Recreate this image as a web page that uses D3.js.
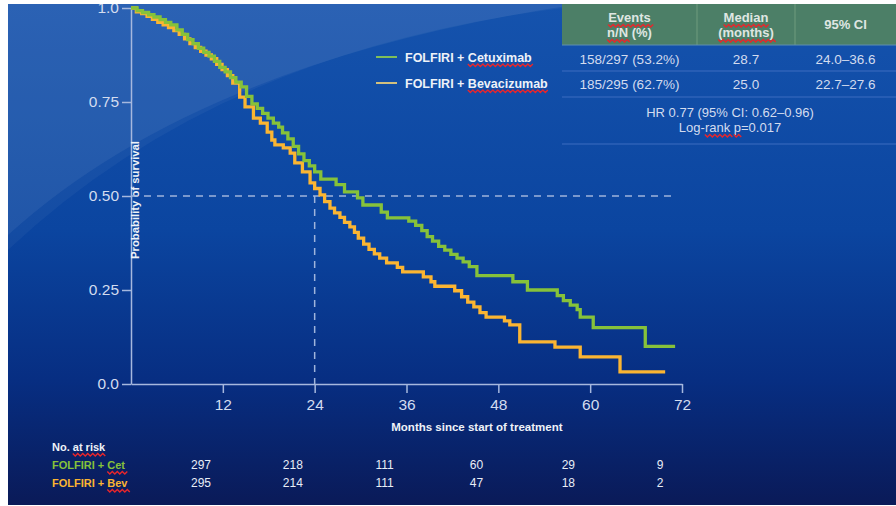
<!DOCTYPE html>
<html>
<head>
<meta charset="utf-8">
<script src="https://cdn.jsdelivr.net/npm/d3@7"></script>
<style>
  html, body { margin: 0; padding: 0; background: #fff; }
  svg { display: block; font-family: 'Liberation Sans', Arial, sans-serif; }
</style>
</head>
<body>
<div class="chart-container"></div>
<script>
// Kaplan-Meier steps (months, survival)
let cetMonths = [0, 0.8, 1.5, 2.3, 3.0, 3.8, 4.5, 5.2, 6.0, 6.7, 7.4, 8.1, 8.8, 9.5, 10.2, 10.9, 11.6, 12.3, 13.0, 13.7,
  14.4, 15.1, 15.8, 16.5, 17.2, 17.9, 18.6, 19.3, 19.8, 20.5, 21.2, 21.9, 22.6, 23.3, 24.0, 24.8, 26.8, 27.9, 29.6, 30.3,
  32.7, 33.5, 36.3, 37.2, 38.0, 38.7, 39.4, 40.2, 41.0, 41.8, 42.6, 43.4, 44.2, 45.2, 49.9, 51.8, 55.7, 56.5, 57.4, 58.3,
  58.7, 60.4, 67.2, 71.1]
let cetSurv = [1.0, 0.993, 0.988, 0.982, 0.976, 0.969, 0.962, 0.955, 0.942, 0.93, 0.916, 0.905, 0.893, 0.882, 0.872, 0.858, 0.842, 0.83, 0.815, 0.803,
  0.79, 0.765, 0.745, 0.733, 0.72, 0.707, 0.694, 0.683, 0.668, 0.652, 0.632, 0.612, 0.594, 0.58, 0.564, 0.545, 0.53, 0.511, 0.495, 0.476,
  0.457, 0.442, 0.433, 0.422, 0.408, 0.392, 0.38, 0.366, 0.356, 0.345, 0.335, 0.325, 0.312, 0.288, 0.272, 0.25, 0.235, 0.222, 0.21, 0.198,
  0.178, 0.15, 0.1, 0.1]

let bevMonths = [0, 0.7, 1.4, 2.1, 2.8, 3.5, 4.2, 4.9, 5.6, 6.3, 7.0, 7.7, 8.4, 9.1, 9.8, 10.5, 11.2, 11.9, 12.6, 13.3,
  14.2, 14.9, 16.0, 16.9, 17.8, 18.4, 18.8, 19.9, 20.8, 21.4, 22.4, 23.4, 24.0, 24.7, 25.3, 26.0, 26.6, 27.3, 27.9, 28.6,
  29.2, 29.7, 30.4, 31.1, 31.8, 32.5, 33.4, 34.8, 35.5, 38.2, 39.2, 39.7, 42.3, 43.2, 44.0, 44.8, 45.6, 46.4, 48.8, 49.5,
  50.8, 55.4, 58.7, 63.9, 69.8]
let bevSurv = [1.0, 0.99, 0.985, 0.978, 0.97, 0.962, 0.955, 0.948, 0.94, 0.93, 0.918, 0.905, 0.895, 0.885, 0.875, 0.865, 0.85, 0.836, 0.82, 0.8,
  0.763, 0.737, 0.707, 0.694, 0.67, 0.649, 0.636, 0.628, 0.614, 0.588, 0.564, 0.535, 0.52, 0.503, 0.485, 0.468, 0.455, 0.443, 0.43, 0.418,
  0.403, 0.388, 0.372, 0.358, 0.346, 0.335, 0.322, 0.31, 0.298, 0.285, 0.272, 0.26, 0.248, 0.232, 0.218, 0.205, 0.19, 0.178, 0.168, 0.157,
  0.112, 0.098, 0.072, 0.032, 0.032]

let xTicks = [12, 24, 36, 48, 60, 72]
let yTicks = [0, 0.25, 0.5, 0.75, 1]
let yTickLabels = ['0.0', '0.25', '0.50', '0.75', '1.0']

let riskMonths = [0, 12, 24, 36, 48, 60]
let riskCet = [297, 218, 111, 60, 29, 9]
let riskBev = [295, 214, 111, 47, 18, 2]

let tableHeader = [['Events', 'n/N (%)'], ['Median', '(months)'], ['95% CI']]
let tableRows = [
  ['158/297 (53.2%)', '28.7', '24.0\u201336.6'],
  ['185/295 (62.7%)', '25.0', '22.7\u201327.6']
]
let seriesNames = ['FOLFIRI + Cetuximab', 'FOLFIRI + Bevacizumab']
let hrText = ['HR 0.77 (95% CI: 0.62\u20130.96)', 'Log-rank p=0.017']

// median reference line (survival 0.5 out to ~70.7 months, drop at 24)
let medianRef = { surv: 0.5, xEnd: 70.7, month: 24 }

let width = 896,
    height = 506

let green = '#86c23a',
    orange = '#fbb532',
    textColor = '#d3dcef',
    axisColor = '#a6b8de'

let x = d3.scaleLinear().domain([0, 72]).range([131, 682])
let y = d3.scaleLinear().domain([0, 1]).range([384, 8])

let svg = d3.select('.chart-container')
  .append('svg')
  .attr('width', width)
  .attr('height', height)

let defs = svg.append('defs')
let bg = defs.append('linearGradient')
  .attr('id', 'bg')
  .attr('x1', 0).attr('y1', 0).attr('x2', 0).attr('y2', 1)
bg.append('stop').attr('offset', '0%').attr('stop-color', '#1553ad')
bg.append('stop').attr('offset', '45%').attr('stop-color', '#0b45a0')
bg.append('stop').attr('offset', '75%').attr('stop-color', '#072e82')
bg.append('stop').attr('offset', '100%').attr('stop-color', '#0a1a58')

svg.append('rect')
  .attr('x', 8).attr('y', 4)
  .attr('width', width - 8).attr('height', height - 5)
  .attr('fill', 'url(#bg)')

// glossy highlight in the upper left
svg.append('path')
  .attr('d', 'M8,4 L600,4 Q 230,40 8,250 Z')
  .attr('fill', '#fff')
  .attr('opacity', 0.04)
svg.append('path')
  .attr('d', 'M8,4 L580,4 Q 200,60 8,235 Z')
  .attr('fill', '#fff')
  .attr('opacity', 0.06)

// results table
let colEdges = [562, 697, 795, 896]
let table = svg.append('g')
table.append('rect')
  .attr('x', colEdges[0]).attr('y', 4)
  .attr('width', colEdges[3] - colEdges[0]).attr('height', 41)
  .attr('fill', '#4c7f67')
table.selectAll('.sep')
  .data([colEdges[1], colEdges[2]])
  .enter()
  .append('line')
  .attr('x1', d => d).attr('x2', d => d)
  .attr('y1', 4).attr('y2', 45)
  .attr('stroke', '#6f9c7f')
  .attr('stroke-width', 1)
table.selectAll('.rowline')
  .data([45, 71, 97, 144])
  .enter()
  .append('line')
  .attr('x1', colEdges[0]).attr('x2', width)
  .attr('y1', d => d).attr('y2', d => d)
  .attr('stroke', d => d === 45 ? '#5f8fb0' : '#3d6cc0')
  .attr('stroke-width', 1)

let headTexts = []
tableHeader.forEach((lines, i) => {
  let cx = (colEdges[i] + colEdges[i + 1]) / 2
  lines.forEach((t, j) => {
    let ty = lines.length === 1 ? 29 : 22 + j * 15
    let el = table.append('text')
      .attr('x', cx).attr('y', ty)
      .attr('text-anchor', 'middle')
      .attr('font-size', 13)
      .attr('font-weight', 'bold')
      .attr('fill', '#dfe6e2')
      .text(t)
    headTexts.push(el)
  })
})

tableRows.forEach((row, r) => {
  row.forEach((t, i) => {
    table.append('text')
      .attr('x', (colEdges[i] + colEdges[i + 1]) / 2)
      .attr('y', 64 + r * 25)
      .attr('text-anchor', 'middle')
      .attr('font-size', 13.5)
      .attr('fill', textColor)
      .text(t)
  })
})

let hrEls = hrText.map((t, i) => table.append('text')
  .attr('x', 730).attr('y', 117 + i * 15)
  .attr('text-anchor', 'middle')
  .attr('font-size', 13)
  .attr('fill', textColor)
  .text(t))

// legend
let legend = svg.append('g')
let legendEls = seriesNames.map((name, i) => {
  let ly = 57 + i * 26
  legend.append('line')
    .attr('x1', 376).attr('x2', 397)
    .attr('y1', ly).attr('y2', ly)
    .attr('stroke', i === 0 ? '#7fbf5a' : '#d2c07e')
    .attr('stroke-width', 2)
  return legend.append('text')
    .attr('x', 405).attr('y', ly + 4.5)
    .attr('font-size', 12.5)
    .attr('font-weight', 'bold')
    .attr('fill', '#eef2f8')
    .text(name)
})

// axes
let yAxis = svg.append('g')
  .attr('transform', `translate(${x(0)},0)`)
  .call(d3.axisLeft(y)
    .tickValues(yTicks)
    .tickFormat((d, i) => yTickLabels[i])
    .tickSize(9)
    .tickSizeOuter(0)
    .tickPadding(3))

let xAxis = svg.append('g')
  .attr('transform', `translate(0,${y(0)})`)
  .call(d3.axisBottom(x)
    .tickValues(xTicks)
    .tickSize(9)
    .tickSizeOuter(0)
    .tickPadding(6))

;[yAxis, xAxis].forEach(g => {
  g.select('.domain').attr('stroke', axisColor).attr('stroke-width', 1.5)
  g.selectAll('.tick line').attr('stroke', axisColor).attr('stroke-width', 1.5)
  g.selectAll('.tick text')
    .attr('fill', textColor)
    .attr('font-size', 15.5)
    .attr('font-family', "'Liberation Sans', Arial, sans-serif")
})

svg.append('text')
  .attr('x', x(45.2)).attr('y', 431)
  .attr('text-anchor', 'middle')
  .attr('font-size', 11.5)
  .attr('font-weight', 'bold')
  .attr('fill', '#eef2f8')
  .text('Months since start of treatment')

svg.append('text')
  .attr('transform', `translate(${x(0) + 8},200) rotate(-90)`)
  .attr('text-anchor', 'middle')
  .attr('font-size', 11.3)
  .attr('font-weight', 'bold')
  .attr('fill', '#eef2f8')
  .text('Probability of survival')

// median dashed guides
let dash = svg.append('g')
  .attr('stroke', '#9fb4dc')
  .attr('stroke-width', 1.5)
  .attr('stroke-dasharray', '7,6')
dash.append('line')
  .attr('x1', x(0)).attr('x2', x(medianRef.xEnd))
  .attr('y1', y(medianRef.surv)).attr('y2', y(medianRef.surv))
dash.append('line')
  .attr('x1', x(medianRef.month)).attr('x2', x(medianRef.month))
  .attr('y1', y(medianRef.surv)).attr('y2', y(0))

// survival curves
let line = d3.line()
  .x(d => x(d[0]))
  .y(d => y(d[1]))
  .curve(d3.curveStepAfter)

let series = [
  { pts: d3.zip(bevMonths, bevSurv), color: orange },
  { pts: d3.zip(cetMonths, cetSurv), color: green }
]

svg.selectAll('.km')
  .data(series)
  .enter()
  .append('path')
  .attr('class', 'km')
  .attr('d', d => line(d.pts))
  .attr('fill', 'none')
  .attr('stroke', d => d.color)
  .attr('stroke-width', 3.3)
  .attr('stroke-linejoin', 'miter')

// number at risk
let riskOffset = 70
let noRisk = svg.append('text')
  .attr('x', 52).attr('y', 451)
  .attr('font-size', 11)
  .attr('font-weight', 'bold')
  .attr('fill', '#eef2f8')
  .text('No. at risk')

let riskLabels = [['FOLFIRI + Cet', green, riskCet], ['FOLFIRI + Bev', orange, riskBev]].map((r, i) => {
  let ry = 469 + i * 18
  svg.selectAll('.risk' + i)
    .data(r[2])
    .enter()
    .append('text')
    .attr('x', (d, j) => x(riskMonths[j]) + riskOffset)
    .attr('y', ry)
    .attr('text-anchor', 'middle')
    .attr('font-size', 12)
    .attr('fill', '#e8edf6')
    .text(d => d)
  return svg.append('text')
    .attr('x', 52).attr('y', ry)
    .attr('font-size', 11)
    .attr('font-weight', 'bold')
    .attr('fill', r[1])
    .text(r[0])
})

// red spell-check squiggles under some words, as in the slide
function squiggle (sel, start, len) {
  let n = sel.node()
  let x0 = n.getStartPositionOfChar(start).x
  let x1 = n.getEndPositionOfChar(start + len - 1).x
  let yb = n.getStartPositionOfChar(start).y + 2.5
  let d = `M${x0},${yb}`
  for (let xx = x0, k = 0; xx < x1; xx += 2.5, k++) {
    d += `L${xx + 2.5},${yb + (k % 2 ? 0 : 2.5)}`
  }
  d3.select(n.parentNode).append('path')
    .attr('d', d)
    .attr('fill', 'none')
    .attr('stroke', '#e8262b')
    .attr('stroke-width', 1.4)
}

squiggle(headTexts[0], 0, 6)
squiggle(headTexts[1], 0, 3)
squiggle(headTexts[2], 0, 6)
squiggle(headTexts[3], 0, 8)
squiggle(legendEls[0], 10, 9)
squiggle(legendEls[1], 10, 11)
squiggle(hrEls[1], 4, 4)
squiggle(hrEls[1], 9, 1)
squiggle(noRisk, 4, 7)
squiggle(riskLabels[0], 10, 3)
squiggle(riskLabels[1], 10, 3)

// white frame strip at the very top
svg.append('rect')
  .attr('x', 0).attr('y', 0)
  .attr('width', width).attr('height', 4)
  .attr('fill', '#fff')
</script>
</body>
</html>
